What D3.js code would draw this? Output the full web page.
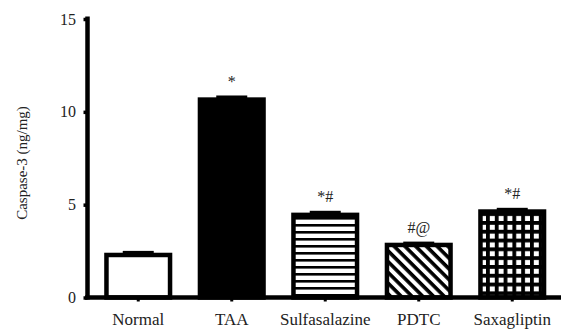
<!DOCTYPE html>
<html><head><meta charset="utf-8">
<script src="https://cdn.jsdelivr.net/npm/d3@7"></script>
<style>
html,body{margin:0;padding:0;background:#fff;}
text{font-family:"Liberation Serif","Times New Roman",serif;fill:#222;}
</style></head>
<body>
<svg id="chart" width="561" height="333"></svg>
<script>
const categories = ["Normal","TAA","Sulfasalazine","PDTC","Saxagliptin"];
const values = [2.29, 10.66, 4.45, 2.83, 4.63];
const errors = [0.14, 0.14, 0.14, 0.1, 0.12];
const annotations = ["", "*", "*#", "#@", "*#"];
const fills = ["white","black","url(#hstripe)","url(#diag)","url(#grid)"];
const yTicks = [0,5,10,15];

const svg = d3.select("#chart");
const defs = svg.append("defs");
// horizontal stripes
const hp = defs.append("pattern").attr("id","hstripe").attr("patternUnits","userSpaceOnUse")
  .attr("width",8).attr("height",7);
hp.append("rect").attr("width",8).attr("height",7).attr("fill","white");
hp.append("rect").attr("y",0).attr("width",8).attr("height",2.6).attr("fill","black");
// diagonal stripes
const dp = defs.append("pattern").attr("id","diag").attr("patternUnits","userSpaceOnUse")
  .attr("width",8).attr("height",7.6).attr("patternTransform","rotate(45)");
dp.append("rect").attr("width",8).attr("height",7.6).attr("fill","white");
dp.append("rect").attr("width",8).attr("height",3.6).attr("fill","black");
// grid
const gp = defs.append("pattern").attr("id","grid").attr("patternUnits","userSpaceOnUse")
  .attr("width",8.8).attr("height",8.8).attr("x",2).attr("y",1);
gp.append("rect").attr("width",8.8).attr("height",8.8).attr("fill","black");
gp.append("rect").attr("x",3.8).attr("y",3.8).attr("width",5).attr("height",5).attr("fill","white");

const x = d3.scaleBand().domain(categories).range([91.5,559]).paddingInner(0.32).paddingOuter(0.16);
const y = d3.scaleLinear().domain([0,15]).range([297.5,19]);
const axisX = 87.5;

// bars
svg.selectAll("rect.bar").data(categories).join("rect").attr("class","bar")
  .attr("x", d=>x(d)).attr("width", x.bandwidth())
  .attr("y", (d,i)=>y(values[i])).attr("height",(d,i)=>y(0)-y(values[i]))
  .attr("fill",(d,i)=>fills[i]).attr("stroke","black").attr("stroke-width",4.5);

// error bars (upper)
categories.forEach((c,i)=>{
  const cx = x(c)+x.bandwidth()/2;
  const yt = y(values[i]+errors[i]);
  svg.append("line").attr("x1",cx).attr("x2",cx).attr("y1",y(values[i])).attr("y2",yt)
    .attr("stroke","black").attr("stroke-width",3);
  svg.append("line").attr("x1",cx-15.5).attr("x2",cx+15.5).attr("y1",yt).attr("y2",yt)
    .attr("stroke","black").attr("stroke-width",3);
  if(annotations[i]){
    svg.append("text").attr("x",cx).attr("y",yt-10).attr("text-anchor","middle")
      .attr("font-size",16).text(annotations[i]);
  }
});

// y axis
const ya = svg.append("g").attr("transform",`translate(${axisX},0)`)
  .call(d3.axisLeft(y).tickValues(yTicks).tickSize(4).tickPadding(7.5).tickFormat(d3.format("d")));
ya.select(".domain").attr("stroke","black").attr("stroke-width",4.5).attr("d",`M0,${y(0)+2}V${y(15)-2.5}`);
ya.selectAll(".tick line").attr("stroke","black").attr("stroke-width",3.5);
ya.selectAll(".tick text").attr("font-size",16).attr("font-family","Liberation Serif, serif").attr("fill","#222");

// x axis
const xa = svg.append("g").attr("transform",`translate(0,${y(0)})`)
  .call(d3.axisBottom(x).tickSize(4).tickPadding(9));
xa.select(".domain").attr("stroke","black").attr("stroke-width",4.5).attr("d",`M${axisX-2.5},0H561`);
xa.selectAll(".tick line").attr("stroke","black").attr("stroke-width",3);
xa.selectAll(".tick text").attr("font-size",17).attr("font-family","Liberation Serif, serif").attr("fill","#222")
  .attr("dy",null).attr("y",27.5);

// y title
svg.append("text").attr("transform",`translate(27,163) rotate(-90)`).attr("text-anchor","middle")
  .attr("font-size",15).text("Caspase-3 (ng/mg)");
</script>
</body></html>
